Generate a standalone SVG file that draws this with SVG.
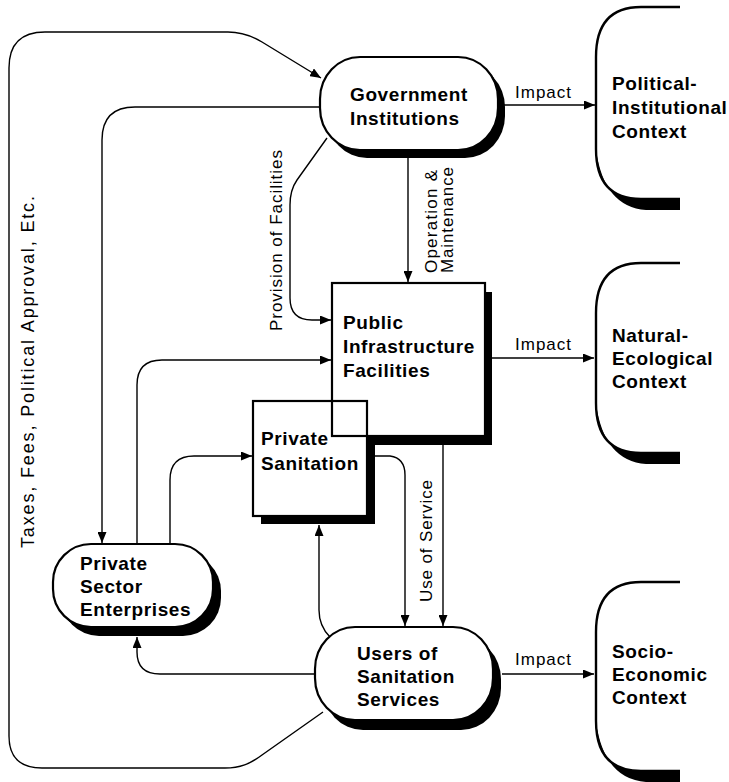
<svg xmlns="http://www.w3.org/2000/svg" width="729" height="782" viewBox="0 0 729 782">
<defs>
<marker id="ah" markerWidth="11" markerHeight="9" refX="11" refY="4.5" orient="auto" markerUnits="userSpaceOnUse">
<path d="M0,0 L11,4.5 L0,9 Z" fill="#000"/>
</marker>
<style>
.lbl{font-family:"Liberation Sans",Arial,sans-serif;font-size:17px;fill:#000}
.nt{font-family:"Liberation Sans",Arial,sans-serif;font-size:19px;font-weight:bold;fill:#000;letter-spacing:0.6px}
.node{fill:#fff;stroke:#000;stroke-width:2.2}
.sh{fill:#000}
.ctx{fill:none;stroke:#000;stroke-width:2.4}
.con{fill:none;stroke:#000;stroke-width:1.4;marker-end:url(#ah)}
</style>
</defs>
<rect width="729" height="782" fill="#fff"/>

<g id="connectors">
<path class="con" d="M323,712 L262,755 C250,764 240,768 225,768 L42,768 Q9,768 9,736 L9,68 Q9,32 45,32 L228,32 C242,32 252,36 262,42 L321,78"/>
<path class="con" d="M320,107 L135,107 Q102,107 102,140 L102,543"/>
<path class="con" d="M327,138 L297,180 Q290,190 290,205 L290,298 Q290,320 312,320 L331,320"/>
<path class="con" d="M408,158 L408,282"/>
<path class="con" d="M137,544 L137,385 Q137,360 162,360 L331,360"/>
<path class="con" d="M170,544 L170,480 Q170,456 194,456 L252,456"/>
<path class="con" d="M375,456 L390,456 Q405,458 405,475 L405,626"/>
<path class="con" d="M443,445 L443,626"/>
<path class="con" d="M330,637 Q319,626 319,610 L319,525"/>
<path class="con" d="M315,674 L160,674 Q137,674 137,652 L137,637"/>
<path class="con" d="M503,105 L595,105"/>
<path class="con" d="M492,358 L594,358"/>
<path class="con" d="M502,674 L594,674"/>
<text class="lbl" x="515" y="98" textLength="56">Impact</text>
<text class="lbl" x="515" y="350" textLength="56">Impact</text>
<text class="lbl" x="515" y="665" textLength="56">Impact</text>
<text class="lbl" style="font-size:18px" transform="translate(34,548) rotate(-90)" textLength="352">Taxes, Fees, Political Approval, Etc.</text>
<text class="lbl" transform="translate(282,331) rotate(-90)" textLength="181">Provision of Facilities</text>
<text class="lbl" transform="translate(437,273) rotate(-90)" textLength="103">Operation &amp;</text>
<text class="lbl" transform="translate(453,273) rotate(-90)" textLength="106">Maintenance</text>
<text class="lbl" transform="translate(432,602) rotate(-90)" textLength="122">Use of Service</text>
</g>

<g id="gov">
<rect class="sh" x="327" y="65" width="178" height="93" rx="40" ry="42"/>
<rect class="node" x="320" y="57" width="178" height="93" rx="40" ry="42"/>
<text class="nt" x="350" y="101">Government</text>
<text class="nt" x="350" y="125">Institutions</text>
</g>

<g id="pse">
<rect class="sh" x="61" y="553" width="160" height="83" rx="38" ry="38"/>
<rect class="node" x="53" y="544" width="160" height="83" rx="38" ry="38"/>
<text class="nt" x="80" y="570">Private</text>
<text class="nt" x="80" y="593">Sector</text>
<text class="nt" x="80" y="616">Enterprises</text>
</g>

<g id="users">
<rect class="sh" x="323" y="637" width="178" height="93" rx="40" ry="42"/>
<rect class="node" x="315" y="627" width="178" height="93" rx="40" ry="42"/>
<text class="nt" x="357" y="660">Users of</text>
<text class="nt" x="357" y="683">Sanitation</text>
<text class="nt" x="357" y="706">Services</text>
</g>

<g id="pif-psan">
<rect class="sh" x="261" y="409" width="114" height="115"/>
<rect class="sh" x="339" y="292" width="153" height="153"/>
<rect x="332" y="283" width="153" height="153" fill="#fff"/>
<rect x="253" y="401" width="114" height="115" fill="#fff"/>
<rect x="332" y="283" width="153" height="153" fill="none" stroke="#000" stroke-width="2.2"/>
<rect x="253" y="401" width="114" height="115" fill="none" stroke="#000" stroke-width="2.2"/>
</g>
<g id="pif">
<text class="nt" x="343" y="329">Public</text>
<text class="nt" x="343" y="353">Infrastructure</text>
<text class="nt" x="343" y="377">Facilities</text>
</g>
<g id="psan">
<text class="nt" x="261" y="445">Private</text>
<text class="nt" x="261" y="470">Sanitation</text>
</g>

<g id="political">
<path class="sh" d="M596,150 Q598,199 641,199 L680,199 L680,210 L646,210 Q604,207 596,150 Z"/>
<path class="ctx" d="M680,7 L641,7 Q596,7 596,57 L596,149 Q596,199 641,199 L680,199"/>
<text class="nt" x="612" y="90">Political-</text>
<text class="nt" x="612" y="114">Institutional</text>
<text class="nt" x="612" y="138">Context</text>
</g>

<g id="natural">
<path class="sh" d="M596,404 Q598,453 641,453 L680,453 L680,464 L646,464 Q604,461 596,404 Z"/>
<path class="ctx" d="M680,263 L641,263 Q596,263 596,313 L596,403 Q596,453 641,453 L680,453"/>
<text class="nt" x="612" y="342">Natural-</text>
<text class="nt" x="612" y="365">Ecological</text>
<text class="nt" x="612" y="388">Context</text>
</g>

<g id="socio">
<path class="sh" d="M596,722 Q598,771 641,771 L680,771 L680,782 L646,782 Q604,779 596,722 Z"/>
<path class="ctx" d="M680,582 L641,582 Q596,582 596,632 L596,721 Q596,771 641,771 L680,771"/>
<text class="nt" x="612" y="658">Socio-</text>
<text class="nt" x="612" y="681">Economic</text>
<text class="nt" x="612" y="704">Context</text>
</g>
</svg>
